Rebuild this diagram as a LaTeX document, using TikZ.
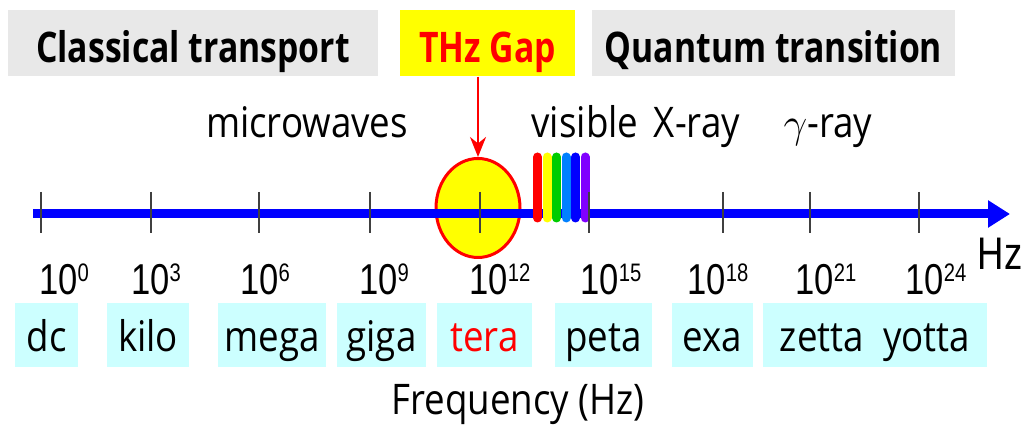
\documentclass[tikz,border=0pt]{standalone}
\usepackage{fontspec}
\newfontfamily\comicfont[FakeStretch=0.87]{Open Sans}
\newfontfamily\comicbold[FakeStretch=0.8]{Open Sans}
\newfontfamily\arialfont[FakeStretch=0.8]{Liberation Sans}
\usetikzlibrary{arrows.meta,shapes.geometric}
\definecolor{BandGray}{RGB}{232,232,232}
\definecolor{GapYellow}{RGB}{255,255,0}
\definecolor{PrefixCyan}{RGB}{204,255,255}
\definecolor{AxisBlue}{RGB}{0,0,255}
\definecolor{TickGray}{RGB}{64,64,64}
\definecolor{BarGreen}{RGB}{0,204,0}
\definecolor{BarSky}{RGB}{0,128,255}
\definecolor{BarViolet}{RGB}{128,0,255}
\newcommand\pw[1]{\raisebox{3.7pt}{\fontsize{7.2}{7}\selectfont #1}}
\tikzset{
  bandbox/.style={fill=BandGray,inner sep=0pt,minimum height=6.6mm,text height=4.5mm,
    text depth=0.5mm,font=\comicbold\bfseries\fontsize{12}{14}\selectfont},
  gapbox/.style={bandbox,fill=GapYellow,text=red},
  unitbox/.style={fill=PrefixCyan,inner sep=0pt,minimum height=6.4mm,text height=4.0mm,
    text depth=0.6mm,font=\comicfont\fontsize{12}{14}\selectfont},
  wavetext/.style={anchor=base,inner sep=0pt,font=\comicfont\fontsize{12}{14}\selectfont},
  expo/.style={anchor=base,inner sep=0pt,font=\arialfont\fontsize{12.3}{14}\selectfont},
  axisline/.style={AxisBlue,line width=0.9mm,-{Triangle[length=2.2mm,width=2.6mm]}},
  tickmark/.style={TickGray,line width=0.2mm},
  colourbar/.style={line width=0.9mm,line cap=round},
  gaparrow/.style={red,line width=0.25mm,-{Stealth[length=2mm,width=1.6mm]}}
}

\begin{document}
\begin{tikzpicture}[x=0.1mm,y=-0.1mm]
  \useasboundingbox (0,0) rectangle (1027,425);
  % bands on top
  \node[bandbox,minimum width=37mm] (classical) at (193,43) {Classical transport};
  \node[gapbox,minimum width=17.5mm] (thz) at (487.5,43) {THz Gap};
  \node[bandbox,minimum width=36.3mm] (quantum) at (773.5,43) {Quantum transition};
  % region names
  \node[wavetext] (micro) at (307,138) {microwaves};
  \node[wavetext] (visible) at (585,138) {visible};
  \node[wavetext] (xray) at (697,138) {X-ray};
  \node[wavetext] (gamma) at (828,138) {$\gamma$-ray};
  % THz window
  \node[ellipse,draw=red,line width=0.3mm,fill=GapYellow,minimum width=8.4mm,
    minimum height=9.9mm,inner sep=0pt] (gap) at (478,208) {};
  \draw[gaparrow] (gap.north |- thz.south) -- (gap.north);
  % axis
  \coordinate (axL) at (33,214);
  \coordinate (axR) at (1010,214);
  \draw[axisline] (axL) -- (axR);
  \foreach \c [count=\i] in {red,GapYellow,BarGreen,BarSky,AxisBlue,BarViolet}
    \draw[colourbar,\c] (528+\i*9.5,157) -- (528+\i*9.5,218);
  \foreach \x in {41,151,259,370,480,589,723,810,919}
    \draw[tickmark] (\x,192) -- (\x,233);
  % exponents
  \foreach \x/\e in {64/0,156/3,265/6,384/9,500/12,611/15,718/18,826/21,936/24}
    \node[expo] (e\e) at (\x,295) {10\pw{\e}};
  \node[expo,font=\arialfont\fontsize{13}{14}\selectfont] (hz) at (1000,270) {Hz};
  % prefixes
  \foreach \l/\r/\n/\t in {15/78/dc/dc,107/189/kilo/kilo,218/326/mega/mega,
      337/426/giga/giga,555/652/peta/peta,672/753/exa/exa,763/987/zy/zetta\ \ yotta}
    \node[unitbox,minimum width=(\r-\l)*0.1mm] (\n) at ({(\l+\r)/2},335) {\t};
  \node[unitbox,text=red,minimum width=9.5mm] (tera) at (484.5,335) {tera};
  \node[wavetext] (freq) at (518,415) {Frequency (Hz)};
\end{tikzpicture}
\end{document}
